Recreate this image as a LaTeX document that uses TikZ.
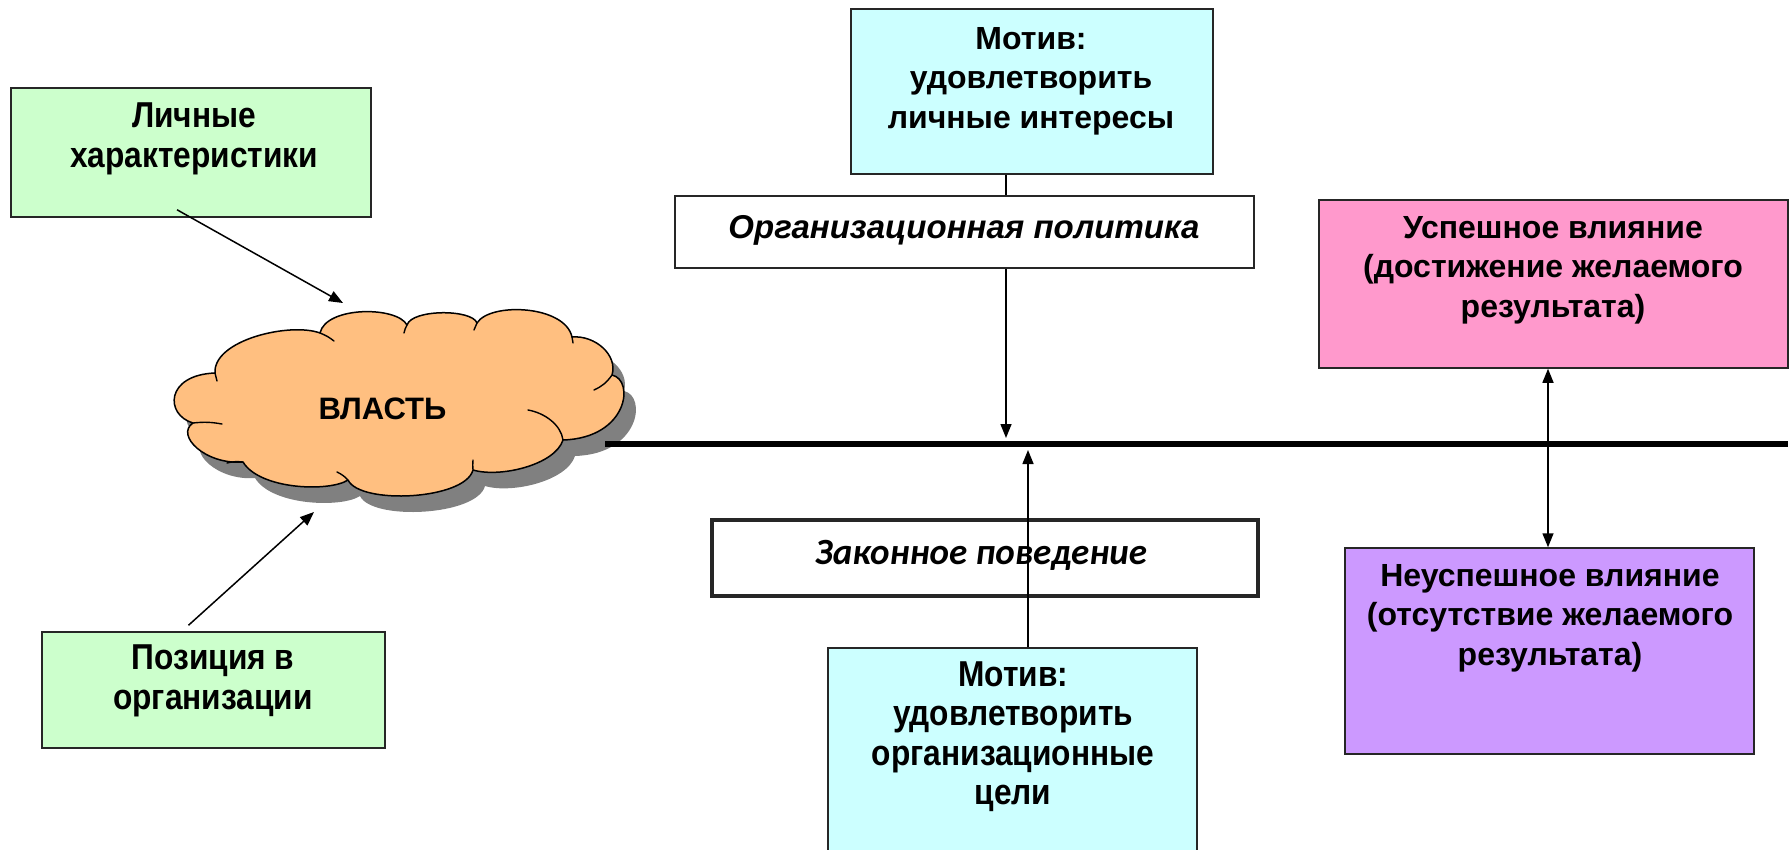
\documentclass[tikz,border=0pt]{standalone}
\usepackage{fontspec}
\setmainfont{Liberation Sans}
\newfontfamily\narrowfont[FakeStretch=0.88]{Liberation Sans}
\newfontfamily\carlitofont{Carlito}
\usetikzlibrary{arrows.meta,calc}
\definecolor{cgreen}{HTML}{CCFFCC}
\definecolor{ccyan}{HTML}{CCFFFF}
\definecolor{cpink}{HTML}{FF99CC}
\definecolor{cpurple}{HTML}{CC99FF}
\definecolor{corange}{HTML}{FFBF80}
\definecolor{cshadow}{HTML}{808080}
\begin{document}
\begin{tikzpicture}[x=1pt,y=-1pt,
  box/.style={draw=black!85, line width=1.5pt, rectangle, inner sep=0pt},
  txtwide/.style={align=center, inner sep=0pt, font=\bfseries\fontsize{32}{39.5}\selectfont},
  txtnarrow/.style={align=center, inner sep=0pt, font=\narrowfont\bfseries\fontsize{36}{39.5}\selectfont},
  txtit/.style={align=center, inner sep=0pt, font=\bfseries\itshape\fontsize{33}{36}\selectfont},
  arr/.style={line width=1.5pt, -{Triangle[length=14pt,width=11pt]}},
  arrboth/.style={line width=1.5pt, {Triangle[length=14pt,width=11pt]}-{Triangle[length=14pt,width=11pt]}},
  plain/.style={line width=1.5pt},
  cloudline/.style={line width=1.4pt, line cap=round}
]
\useasboundingbox (0,0) rectangle (1791,850);

% boxes
\node[box, fill=cgreen, minimum width=360, minimum height=129] (g1) at (191,152.5) {};
\node[txtnarrow] (g1t) at (194,139) {Личные\\характеристики};

\node[box, fill=cgreen, minimum width=343, minimum height=116] (g2) at (213.5,690) {};
\node[txtnarrow] (g2t) at (213,681) {Позиция в\\организации};

\node[box, fill=ccyan, minimum width=362, minimum height=165] (c1) at (1032,91.5) {};
\node[txtwide] (c1t) at (1031,81) {Мотив:\\удовлетворить\\личные интересы};

\node[box, fill=white, minimum width=579, minimum height=72] (w1) at (964.5,232) {};
\node[txtit] (w1t) at (964,230) {Организационная политика};

\node[box, fill=white, line width=3.5pt, minimum width=546, minimum height=76] (w2) at (985,558) {};
\node[txtit, font=\carlitofont\bfseries\itshape\fontsize{37}{40}\selectfont] (w2t) at (981,555) {Законное поведение};

\node[box, fill=ccyan, minimum width=369, minimum height=240] (c2) at (1012.5,768) {};
\node[txtnarrow] (c2t) at (1013,736.5) {Мотив:\\удовлетворить\\организационные\\цели};

\node[box, fill=cpink, minimum width=469, minimum height=168] (pk) at (1553.5,284) {};
\node[txtwide] (pkt) at (1553,270) {Успешное влияние\\(достижение желаемого\\результата)};

\node[box, fill=cpurple, minimum width=409, minimum height=206] (pp) at (1549.5,651) {};
\node[txtwide] (ppt) at (1550,618) {Неуспешное влияние\\(отсутствие желаемого\\результата)};

% cloud outline
\def\cloudoutline{
  (215,373) .. controls (213,340) and (290,322) .. (320,333)
  .. controls (326,306) and (397,306) .. (407,325)
  .. controls (412,309) and (472,309) .. (477,323)
  .. controls (490,302) and (565,305) .. (572,337)
  .. controls (595,335) and (618,355) .. (612,375)
  .. controls (635,380) and (628,438) .. (563,440)
  .. controls (555,465) and (500,478) .. (473,470)
  .. controls (465,500) and (360,505) .. (348,480)
  .. controls (330,492) and (260,490) .. (243,462)
  .. controls (205,465) and (175,435) .. (193,423)
  .. controls (165,415) and (165,375) .. (215,373) -- cycle
}
\fill[cshadow, shift={(12,16)}] \cloudoutline;
\draw[fill=corange, line width=1.5pt, line join=round] \cloudoutline;
% inner puff strokes
\draw[cloudline] (215,373) to[bend left=5] (217,381);
\draw[cloudline] (320,333) to[bend left=8] (334,341);
\draw[cloudline] (407,325) to[bend right=8] (404,333);
\draw[cloudline] (477,323) to[bend left=8] (474,330);
\draw[cloudline] (572,337) to[bend left=5] (573,343);
\draw[cloudline] (612,375) to[bend left=15] (594,390);
\draw[cloudline] (563,440) .. controls (561,425) and (545,413) .. (528,410);
\draw[cloudline] (473,470) to[bend left=5] (473,460);
\draw[cloudline] (348,480) to[bend right=10] (337,472);
\draw[cloudline] (243,462) to[bend right=10] (227,463);
\draw[cloudline] (193,423) to[bend left=8] (222,424);
\node[inner sep=0pt, minimum width=451, minimum height=197] (cl) at (397,404) {};
\node[txtwide, font=\bfseries\fontsize{31}{36}\selectfont] (clt) at (382.5,408.5) {ВЛАСТЬ};

% thick line
\coordinate (ls) at (605,444);
\coordinate (le) at (1788,444);
\draw[line width=5.5pt] (ls) -- (le);

% connectors
\draw[arr] ($(g1.south)+(-14,-8)$) -- ($(cl.center)+(-54,-101)$);
\draw[arr] ($(g2.north)+(-25,-6)$) -- ($(cl.center)+(-83,108)$);

\coordinate (vx) at (1006,0);
\coordinate (ux) at (1028,0);
\coordinate (dx) at (1548,0);
\draw[plain] (c1.south -| vx) -- (w1.north -| vx);
\draw[arr] (w1.south -| vx) -- ($(ls -| vx)+(0,-6)$);
\draw[arr] (c2.north -| ux) -- ($(ls -| ux)+(0,6)$);
\draw[arrboth] (pk.south -| dx) -- (pp.north -| dx);
\end{tikzpicture}
\end{document}
